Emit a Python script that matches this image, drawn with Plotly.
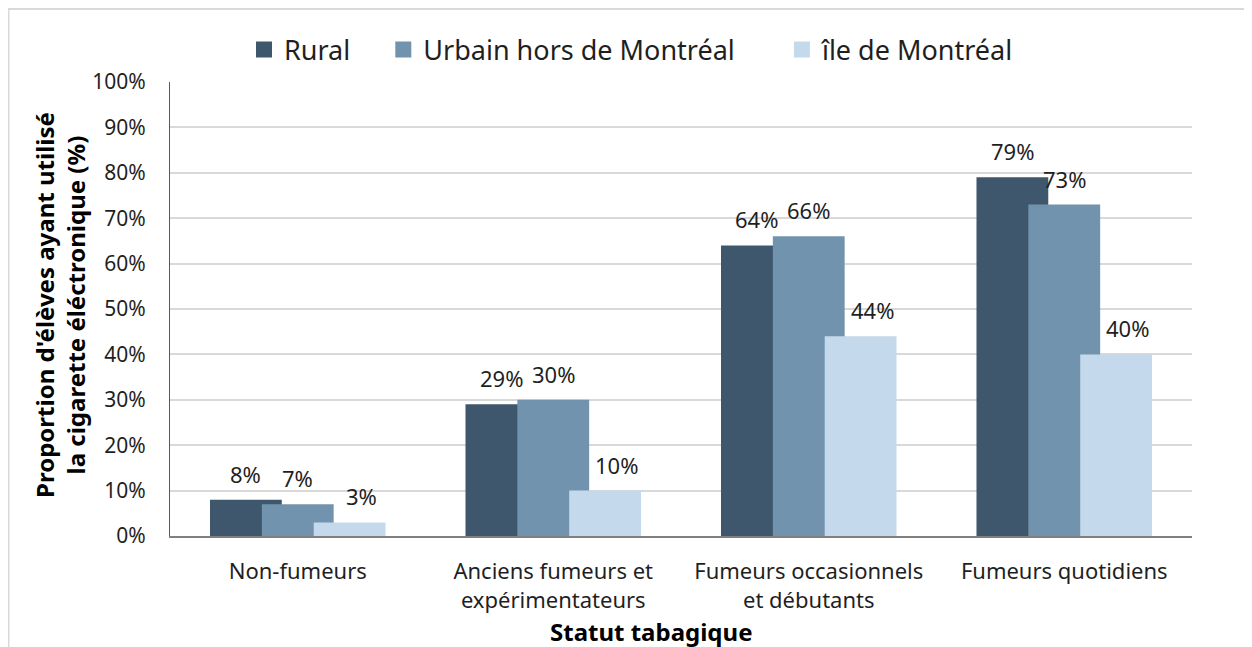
import plotly.graph_objects as go

categories = ["Non-fumeurs", "Anciens fumeurs et<br>expérimentateurs",
              "Fumeurs occasionnels<br>et débutants", "Fumeurs quotidiens"]
series_names = ["Rural", "Urbain hors de Montréal", "île de Montréal"]
rural = [8, 29, 64, 79]
urbain = [7, 30, 66, 73]
ile = [3, 10, 44, 40]
y_ticks = [0, 10, 20, 30, 40, 50, 60, 70, 80, 90, 100]
y_tick_labels = [f"{v}%" for v in y_ticks]

colors = ["#3e576d", "#7293ad", "#c5d9ec"]
FONT = "Noto Sans"
TXT = "#1f1f1f"

bar_w = 0.281
centers = [-0.203, 0.0, 0.203]
label_dx = [0.0, 0.0, 0.045]

fig = go.Figure()
all_series = [rural, urbain, ile]
for name, vals, col, c in zip(series_names, all_series, colors, centers):
    fig.add_trace(go.Bar(
        x=categories, y=vals, name=name, showlegend=False,
        marker=dict(color=col, line=dict(width=0)),
        width=bar_w, offset=c - bar_w / 2,
    ))

# legend entries with larger square swatches
pad = ["\u00a0" * 4, "\u00a0" * 6, ""]
for name, col, p in zip(series_names, colors, pad):
    fig.add_trace(go.Scatter(
        x=[None], y=[None], mode="markers", name=name + p,
        marker=dict(symbol="square", size=17, color=col),
        showlegend=True, hoverinfo="skip",
    ))

annotations = []
for vals, c, dx in zip(all_series, centers, label_dx):
    for i, v in enumerate(vals):
        annotations.append(dict(
            x=i + c + dx, y=v, xref="x", yref="y", text=f"{v}%",
            showarrow=False, yanchor="middle", yshift=26,
            font=dict(family=FONT, size=22, color=TXT),
        ))

OFF = 8  # page body margin
L, R, T, B = 162, 68, 74, 119
W, H = 1252, 647
pw, ph = W - L - R, H - T - B

def px(xp):
    return (xp - OFF - L) / pw

def py(yp):
    return (H - B - (yp - OFF)) / ph

annotations.append(dict(
    x=px(60), y=py(305), xref="paper", yref="paper",
    text="Proportion d'élèves ayant utilisé<br>la cigarette éléctronique (%)",
    textangle=-90, showarrow=False, xanchor="center", yanchor="middle",
    font=dict(family=FONT, size=24, color="#000000", weight="bold"),
))
annotations.append(dict(
    x=px(651), y=py(631), xref="paper", yref="paper",
    text="Statut tabagique", showarrow=False,
    xanchor="center", yanchor="middle",
    font=dict(family=FONT, size=24, color="#000000", weight="bold"),
))

shapes = [
    dict(type="line", xref="paper", yref="paper", x0=px(8), x1=px(W + 20),
         y0=py(9), y1=py(9), line=dict(color="#d9d9d9", width=2)),
    dict(type="line", xref="paper", yref="paper", x0=px(8.5), x1=px(8.5),
         y0=py(9), y1=py(H + 20), line=dict(color="#d9d9d9", width=2)),
]

fig.update_layout(
    width=W, height=H,
    margin=dict(l=L, r=R, t=T, b=B),
    barmode="overlay",
    paper_bgcolor="white", plot_bgcolor="white",
    font=dict(family=FONT, color=TXT),
    showlegend=True,
    legend=dict(orientation="h", x=px(632), xanchor="center", y=py(50),
                yanchor="middle", font=dict(family=FONT, size=27, color=TXT),
                traceorder="normal"),
    annotations=annotations,
    shapes=shapes,
)
fig.update_xaxes(
    type="category", range=[-0.5, 3.5],
    showline=True, linecolor="#7f7f7f", linewidth=2,
    showgrid=False, ticks="", ticklabelstandoff=15,
    tickfont=dict(family=FONT, size=22, color=TXT),
)
fig.update_yaxes(
    range=[0, 100], tickvals=y_ticks, ticktext=y_tick_labels,
    showline=True, linecolor="#595959", linewidth=1,
    showgrid=True, gridcolor="#d9d9d9", gridwidth=2,
    zeroline=False, ticks="", ticklabelstandoff=19,
    tickfont=dict(family=FONT, size=21, color=TXT),
)

fig.write_html("out.html")
